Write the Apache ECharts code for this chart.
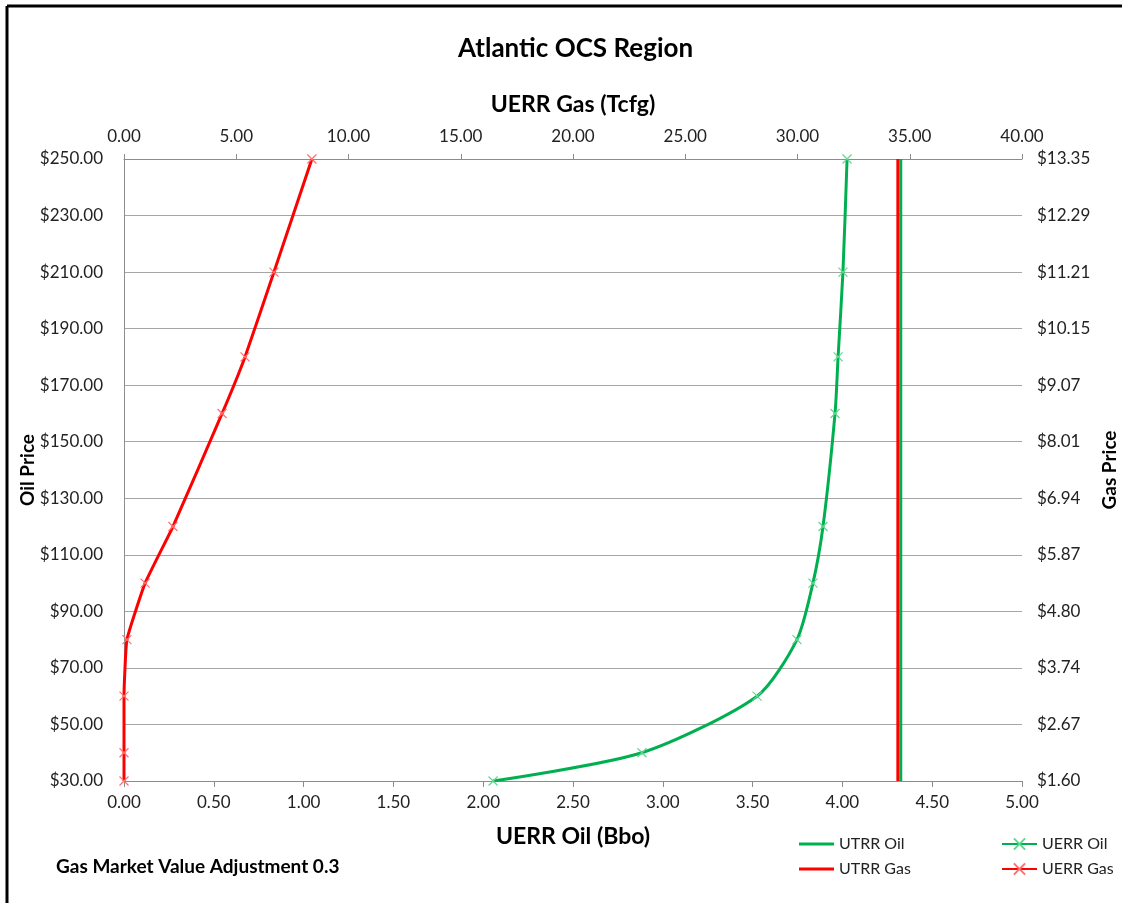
<!DOCTYPE html>
<html>
<head>
<meta charset="utf-8">
<script src="https://cdn.jsdelivr.net/npm/echarts@6/dist/echarts.min.js"></script>
<style>
html,body{margin:0;padding:0;background:#fff;overflow:hidden;}
#chart{width:1122px;height:903px;}
</style>
</head>
<body>
<div id="chart"></div>
<script>
// ---- data ----
const oilPrices = [30, 40, 60, 80, 100, 120, 160, 180, 210, 250];
const uerrOil = [2.055, 2.884, 3.525, 3.747, 3.836, 3.892, 3.959, 3.976, 4.003, 4.026]; // Bbo
const uerrGas = [0.0, 0.0, 0.0, 0.13, 0.94, 2.18, 4.37, 5.39, 6.68, 8.37];             // Tcfg
const utrrOil = 4.325;  // Bbo
const utrrGas = 34.47;  // Tcfg
const priceRange = [30, 250];
const gasPriceLabels = ['$1.60','$2.67','$3.74','$4.80','$5.87','$6.94','$8.01','$9.07','$10.15','$11.21','$12.29','$13.35'];

const FONT = 'Lato, "Open Sans", sans-serif';
const GREEN = '#00b050';
const RED = '#ff0000';
const xMark = 'path://M0,0L10,10M10,0L0,10';
const barIcon = 'path://M0,4.6L10,4.6L10,5.4L0,5.4Z';

const chart = echarts.init(document.getElementById('chart'), null, {renderer: 'canvas'});

const axisLabelStyle = {color: '#222', fontFamily: FONT, fontSize: 17};
const axisNameStyle = {color: '#000', fontFamily: FONT, fontSize: 23, fontWeight: 'bold'};
const legendText = {fontFamily: FONT, fontSize: 16, color: '#222'};

const option = {
  backgroundColor: '#fff',
  animation: false,
  textStyle: {fontFamily: FONT},
  title: [
    {text: 'Atlantic OCS Region', left: 453, top: 31,
     textStyle: {fontFamily: FONT, fontSize: 26, fontWeight: 'bold', color: '#000'}},
    {text: 'Gas Market Value Adjustment 0.3', left: 51, top: 852,
     textStyle: {fontFamily: FONT, fontSize: 19, fontWeight: 'bold', color: '#000'}}
  ],
  graphic: [
    {type: 'line', shape: {x1: 7, y1: 6, x2: 7, y2: 903}, style: {stroke: '#000', lineWidth: 3}},
    {type: 'line', shape: {x1: 7, y1: 6, x2: 1122, y2: 6}, style: {stroke: '#000', lineWidth: 3}}
  ],
  legend: [
    {data: [{name: 'UTRR Oil', icon: barIcon}, {name: 'UTRR Gas', icon: barIcon}],
     orient: 'vertical', left: 794, top: 831,
     itemWidth: 35, itemHeight: 14, itemGap: 9, textStyle: legendText},
    {data: ['UERR Oil', 'UERR Gas'], orient: 'vertical', left: 996, top: 831,
     itemWidth: 35, itemHeight: 14, itemGap: 9, textStyle: legendText}
  ],
  grid: {left: 124, top: 159, width: 898, height: 622, containLabel: false, outerBoundsMode: 'none'},
  xAxis: [
    {type: 'value', position: 'bottom', min: 0, max: 5, interval: 0.5,
     name: 'UERR Oil (Bbo)', nameLocation: 'middle', nameGap: 44, nameMoveOverlap: false, nameTextStyle: axisNameStyle,
     axisLine: {show: true, lineStyle: {color: '#8c8c8c'}},
     axisTick: {show: true, inside: false, length: 6, lineStyle: {color: '#8c8c8c'}},
     axisLabel: Object.assign({formatter: v => v.toFixed(2), margin: 13}, axisLabelStyle),
     splitLine: {show: false}},
    {type: 'value', position: 'top', min: 0, max: 40, interval: 5,
     name: 'UERR Gas (Tcfg)', nameLocation: 'middle', nameGap: 43, nameMoveOverlap: false, nameTextStyle: axisNameStyle,
     axisLine: {show: true, lineStyle: {color: '#8c8c8c'}},
     axisTick: {show: true, inside: false, length: 5, lineStyle: {color: '#8c8c8c'}},
     axisLabel: Object.assign({formatter: v => v.toFixed(2), margin: 14}, axisLabelStyle),
     splitLine: {show: false}}
  ],
  yAxis: [
    {type: 'value', position: 'left', min: priceRange[0], max: priceRange[1], interval: 20,
     name: 'Oil Price', nameLocation: 'middle', nameGap: 87, nameRotate: 90, nameMoveOverlap: false,
     nameTextStyle: Object.assign({}, axisNameStyle, {fontSize: 19}),
     axisLine: {show: true, lineStyle: {color: '#8c8c8c'}},
     axisTick: {show: false},
     axisLabel: Object.assign({formatter: v => '$' + v.toFixed(2), margin: 21}, axisLabelStyle),
     splitLine: {show: true, lineStyle: {color: '#a6a6a6', width: 1}}},
    {type: 'value', position: 'right', min: priceRange[0], max: priceRange[1], interval: 20,
     name: 'Gas Price', nameLocation: 'middle', nameGap: 78, nameRotate: 90, nameMoveOverlap: false,
     nameTextStyle: Object.assign({}, axisNameStyle, {fontSize: 19}),
     axisLine: {show: true, lineStyle: {color: '#8c8c8c'}},
     axisTick: {show: false},
     axisLabel: Object.assign({formatter: v => gasPriceLabels[Math.round((v - priceRange[0]) / 20)], margin: 15}, axisLabelStyle),
     splitLine: {show: false}}
  ],
  series: [
    {name: 'UTRR Oil', type: 'line', xAxisIndex: 0, yAxisIndex: 0,
     data: priceRange.map(p => [utrrOil, p]), symbol: 'none',
     lineStyle: {color: GREEN, width: 3}, itemStyle: {color: GREEN}, z: 3},
    {name: 'UTRR Gas', type: 'line', xAxisIndex: 1, yAxisIndex: 0,
     data: priceRange.map(p => [utrrGas, p]), symbol: 'none',
     lineStyle: {color: RED, width: 3}, itemStyle: {color: RED}, z: 3},
    {name: 'UERR Oil', type: 'line', xAxisIndex: 0, yAxisIndex: 0,
     data: oilPrices.map((p, i) => [uerrOil[i], p]), smooth: 0.25,
     symbol: xMark, symbolSize: 9, showSymbol: true,
     lineStyle: {color: GREEN, width: 3},
     itemStyle: {color: 'rgba(0,0,0,0)', borderColor: '#5fd890', borderWidth: 1.2}, z: 4},
    {name: 'UERR Gas', type: 'line', xAxisIndex: 1, yAxisIndex: 0,
     data: oilPrices.map((p, i) => [uerrGas[i], p]), smooth: 0.12,
     symbol: xMark, symbolSize: 9, showSymbol: true,
     lineStyle: {color: RED, width: 3},
     itemStyle: {color: 'rgba(0,0,0,0)', borderColor: '#ff7070', borderWidth: 1.2}, z: 4}
  ]
};
chart.setOption(option);
</script>
</body>
</html>
